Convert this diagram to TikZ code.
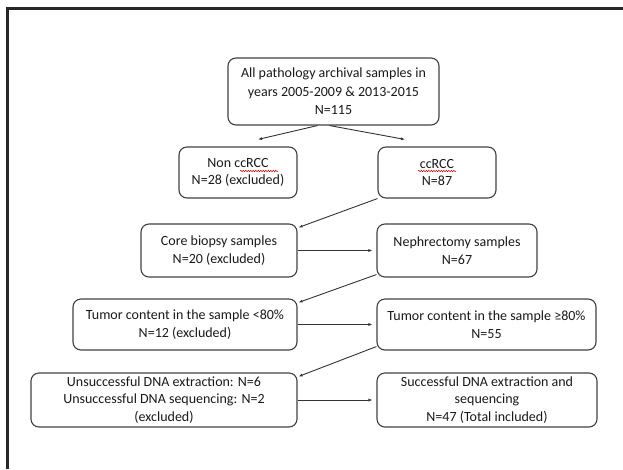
\documentclass[tikz,border=0pt]{standalone}
\usepackage{fontspec}
\setmainfont{Carlito}
\usetikzlibrary{arrows.meta,calc,decorations.pathmorphing}
\begin{document}
\begin{tikzpicture}[x=1pt,y=-1pt,
 box/.style={draw=black!75, line width=1.1pt, rounded corners=8pt, align=center,
   font=\fontsize{14}{17.5}\selectfont, text=black!90, inner sep=0pt},
 arr/.style={draw=black!80, line width=0.9pt, -{Latex[length=4pt,width=3pt]}},
 squiggle/.style={draw=red!85!black, line width=0.5pt, decorate,
   decoration={snake, amplitude=0.7pt, segment length=2.5pt}}
]
\useasboundingbox (0,0) rectangle (623,469);
\draw[line width=3pt, black!85] (7.5,469) -- (7.5,8) -- (623,8);

\node[box, minimum width=211pt, minimum height=67pt, font=\fontsize{14}{18.5}\selectfont] (all) at (333.5,91.5)
  {All pathology archival samples in\\years 2005-2009 \& 2013-2015\\N=115};
\node[box, minimum width=118pt, minimum height=51pt] (non) at (238,172.5)
  {Non ccRCC\\N=28 (excluded)};
\node[box, minimum width=118pt, minimum height=51pt] (cc) at (437,172.5)
  {ccRCC\\N=87};
\node[box, minimum width=156pt, minimum height=53pt] (core) at (219,250.5)
  {Core biopsy samples\\N=20 (excluded)};
\node[box, minimum width=160pt, minimum height=53pt] (neph) at (457,250.5)
  {Nephrectomy samples\\N=67};
\node[box, minimum width=224pt, minimum height=51pt] (tlow) at (185,324.5)
  {Tumor content in the sample <80\%\\N=12 (excluded)};
\node[box, minimum width=219pt, minimum height=51pt] (thigh) at (486.5,324.5)
  {Tumor content in the sample ≥80\%\\N=55};
\node[box, minimum width=266pt, minimum height=54pt] (unsucc) at (164,400)
  {Unsuccessful DNA extraction: N=6\\Unsuccessful DNA sequencing: N=2\\(excluded)};
\node[box, minimum width=220pt, minimum height=54pt] (succ) at (487,400)
  {Successful DNA extraction and\\sequencing\\N=47 (Total included)};

\draw[squiggle] ($(non.center)+(2,-1.5)$) -- ++(38,0);
\draw[squiggle] ($(cc.center)+(-19,-1.5)$) -- ++(38,0);

\draw[arr] ($(all.south)+(-16,0)$) -- ($(non.north)+(20,-7)$);
\draw[arr] ($(all.south)+(-4,0)$) -- ($(cc.north)+(-32,-7)$);
\draw[arr] (cc.south west) -- ($(core.north east)+(1,4)$);
\draw[arr, shorten >=4pt] (core.east) -- (neph.west);
\draw[arr] ($(neph.south west)+(0,-3)$) -- ($(tlow.north east)+(1,4)$);
\draw[arr, shorten >=4pt] (tlow.east) -- (thigh.west);
\draw[arr] ($(thigh.south west)+(0,-4)$) -- ($(unsucc.north east)+(1,4)$);
\draw[arr, shorten >=4pt] (unsucc.east) -- (succ.west);
\end{tikzpicture}
\end{document}
